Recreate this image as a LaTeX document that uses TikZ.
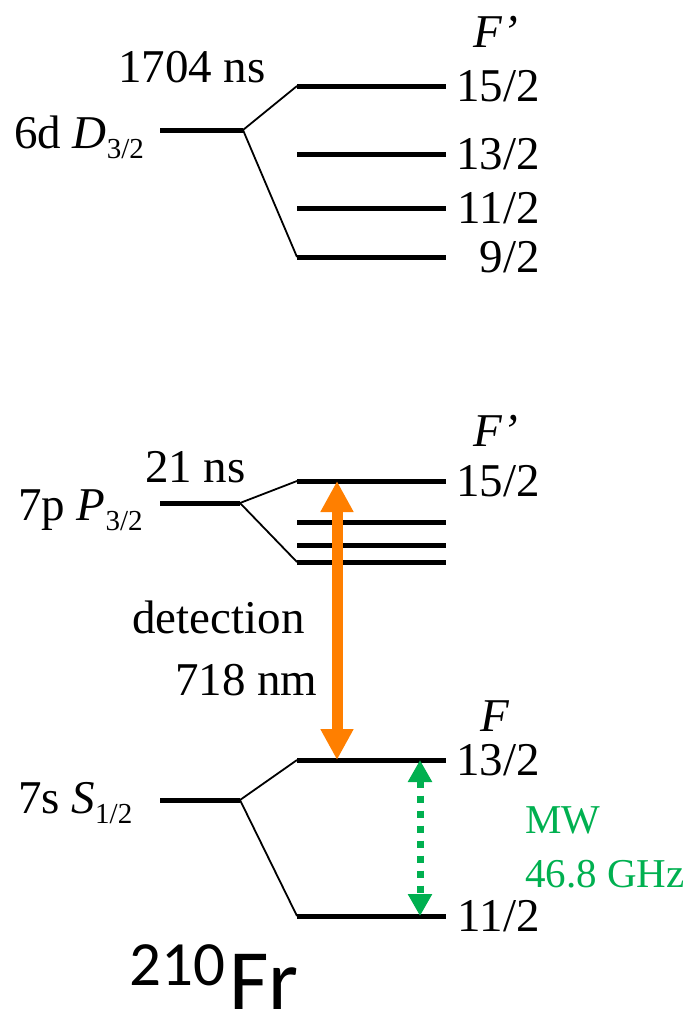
\documentclass[tikz,border=0pt]{standalone}
\usepackage{fontspec}
\setmainfont{Liberation Serif}
\newfontfamily\calibfont{Carlito}
\usetikzlibrary{arrows.meta}
\definecolor{orng}{RGB}{255,127,0}
\definecolor{mwgreen}{RGB}{0,176,80}
\newcommand{\subtxt}[1]{\raisebox{-10pt}{\fontsize{29}{30}\selectfont #1}}
\begin{document}
\begin{tikzpicture}[x=1pt,y=-1pt,
  lvl/.style={line width=5pt},
  split/.style={line width=1.8pt},
  lbl/.style={inner sep=0pt,font=\fontsize{47}{50}\selectfont},
  flbl/.style={lbl,anchor=base east},
  mwlbl/.style={inner sep=0pt,anchor=base west,text=mwgreen,font=\fontsize{41}{45}\selectfont},
  detarrow/.style={line width=11pt,orng,{Triangle[width=31pt,length=31pt]}-{Triangle[width=31pt,length=31pt]}},
  mwarrow/.style={line width=7pt,mwgreen,dash pattern=on 7pt off 8pt,{Triangle[width=23pt,length=22pt]}-{Triangle[width=23pt,length=22pt]}}
]
\useasboundingbox (0,0) rectangle (695,1017);

% ---------- 6d D3/2 ----------
\coordinate (d0a) at (160,130);
\coordinate (d0b) at (243,130);
\coordinate (d15a) at (297,86);  \coordinate (d15b) at (446,86);
\coordinate (d13a) at (297,154); \coordinate (d13b) at (446,154);
\coordinate (d11a) at (297,208); \coordinate (d11b) at (446,208);
\coordinate (d9a)  at (297,257); \coordinate (d9b)  at (446,257);
\draw[lvl] (d0a) -- (d0b);
\draw[lvl] (d15a) -- (d15b);
\draw[lvl] (d13a) -- (d13b);
\draw[lvl] (d11a) -- (d11b);
\draw[lvl] (d9a) -- (d9b);
\draw[split] (d0b) -- (d15a);
\draw[split] (d0b) -- (d9a);
\node[lbl,anchor=base] (dF) at (496,47) {\itshape F’};
\node[flbl] (d15l) at (540,101) {15/2};
\node[flbl] (d13l) at (540,169) {13/2};
\node[flbl] (d11l) at (540,223) {11/2};
\node[flbl] (d9l)  at (540,272) {9/2};
\node[lbl,anchor=base west] (dlife) at (118,82) {1704 ns};
\node[lbl,anchor=base west] (dname) at (14,148) {6d {\itshape D}\subtxt{3/2}};

% ---------- 7p P3/2 ----------
\coordinate (p0a) at (160,503);
\coordinate (p0b) at (240,503);
\coordinate (p15a) at (297,481); \coordinate (p15b) at (446,481);
\coordinate (p2a) at (297,522);  \coordinate (p2b) at (446,522);
\coordinate (p3a) at (297,545);  \coordinate (p3b) at (446,545);
\coordinate (p4a) at (297,562);  \coordinate (p4b) at (446,562);
\draw[lvl] (p0a) -- (p0b);
\draw[lvl] (p15a) -- (p15b);
\draw[lvl] (p2a) -- (p2b);
\draw[lvl] (p3a) -- (p3b);
\draw[lvl] (p4a) -- (p4b);
\draw[split] (p0b) -- (p15a);
\draw[split] (p0b) -- (p4a);
\node[lbl,anchor=base] (pF) at (496,446) {\itshape F’};
\node[flbl] (p15l) at (540,496) {15/2};
\node[lbl,anchor=base west] (plife) at (145,482) {21 ns};
\node[lbl,anchor=base west] (pname) at (18,520) {7p {\itshape P}\subtxt{3/2}};

% ---------- 7s S1/2 ----------
\coordinate (s0a) at (160,800);
\coordinate (s0b) at (240,800);
\coordinate (s13a) at (297,760); \coordinate (s13b) at (446,760);
\coordinate (s11a) at (297,916); \coordinate (s11b) at (446,916);
\draw[lvl] (s0a) -- (s0b);
\draw[lvl] (s13a) -- (s13b);
\draw[lvl] (s11a) -- (s11b);
\draw[split] (s0b) -- (s13a);
\draw[split] (s0b) -- (s11a);
\node[lbl,anchor=base] (sF) at (495,731) {\itshape F};
\node[flbl] (s13l) at (540,775) {13/2};
\node[flbl] (s11l) at (540,931) {11/2};
\node[lbl,anchor=base west] (sname) at (18,813) {7s {\itshape S}\subtxt{1/2}};

% ---------- transitions ----------
\coordinate (detT) at (337,481);
\coordinate (detB) at (337,760);
\draw[detarrow] (detT) -- (detB);
\node[lbl,anchor=base west] (det1) at (132,633) {detection};
\node[lbl,anchor=base west] (det2) at (175,695) {718 nm};

\coordinate (mwT) at (420,760);
\coordinate (mwB) at (420,916);
\draw[mwarrow] (mwT) -- (mwB);
\node[mwlbl] (mw1) at (525,833) {MW};
\node[mwlbl] (mw2) at (525,887) {46.8 GHz};

% ---------- isotope ----------
\node[inner sep=0pt,anchor=base west,font=\calibfont\fontsize{63}{66}\selectfont] (iso) at (129,985) {210};
\node[inner sep=0pt,anchor=base west,font=\calibfont\fontsize{86}{90}\selectfont] (elem) at (229,1009) {Fr};
\end{tikzpicture}
\end{document}
